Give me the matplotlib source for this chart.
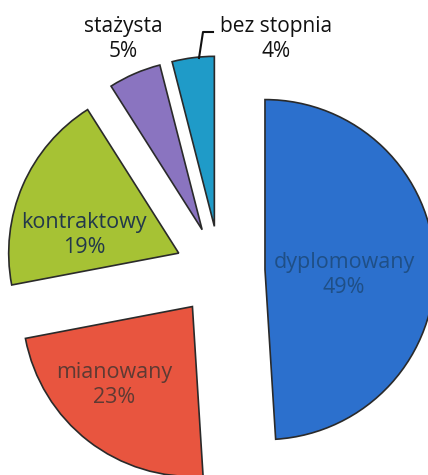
import matplotlib.pyplot as plt

# Share of teachers by professional grade
labels = ['dyplomowany', 'mianowany', 'kontraktowy', 'stażysta', 'bez stopnia']
shares = [49, 23, 19, 5, 4]
colors = ['#2c70cd', '#e8553f', '#a6c234', '#8a74c0', '#1f9bc8']
text_colors = ['#1f4f86', '#5e3a33', '#22384a', '#111111', '#111111']

W, H = 428, 475
fig = plt.figure(figsize=(W / 100, H / 100), dpi=100)
ax = fig.add_axes([0, 0, 1, 1])

R = 170
cx, cy = 220, H - 271
# explode is an absolute offset in data units here
wedges, _ = ax.pie(shares, colors=colors, startangle=90, counterclock=False,
                   radius=R, center=(cx, cy), explode=[45] * len(shares),
                   wedgeprops=dict(edgecolor='#2a2a2a', linewidth=1.2))
ax.set_xlim(0, W)
ax.set_ylim(0, H)
ax.set_aspect('equal')
ax.axis('off')

font = ['Open Sans', 'DejaVu Sans']

# labels inside the three large wedges
inside = {0: (344, 275), 1: (114, 385), 2: (84, 235)}
for i, (x, y) in inside.items():
    ax.text(x, H - y, f'{labels[i]}\n{shares[i]}%', ha='center', va='center',
            fontsize=15.5, family=font, color=text_colors[i], linespacing=1.3)

# labels above the two small wedges
ax.text(123, H - 39, f'{labels[3]}\n{shares[3]}%', ha='center', va='center',
        fontsize=15, family=font, color=text_colors[3], linespacing=1.3)
ax.text(276, H - 39, f'{labels[4]}\n{shares[4]}%', ha='center', va='center',
        fontsize=15, family=font, color=text_colors[4], linespacing=1.3)
ax.plot([199, 203, 213], [H - 58, H - 32, H - 32], color='#111111', lw=1.5)

fig.savefig('out.png', dpi=100)
